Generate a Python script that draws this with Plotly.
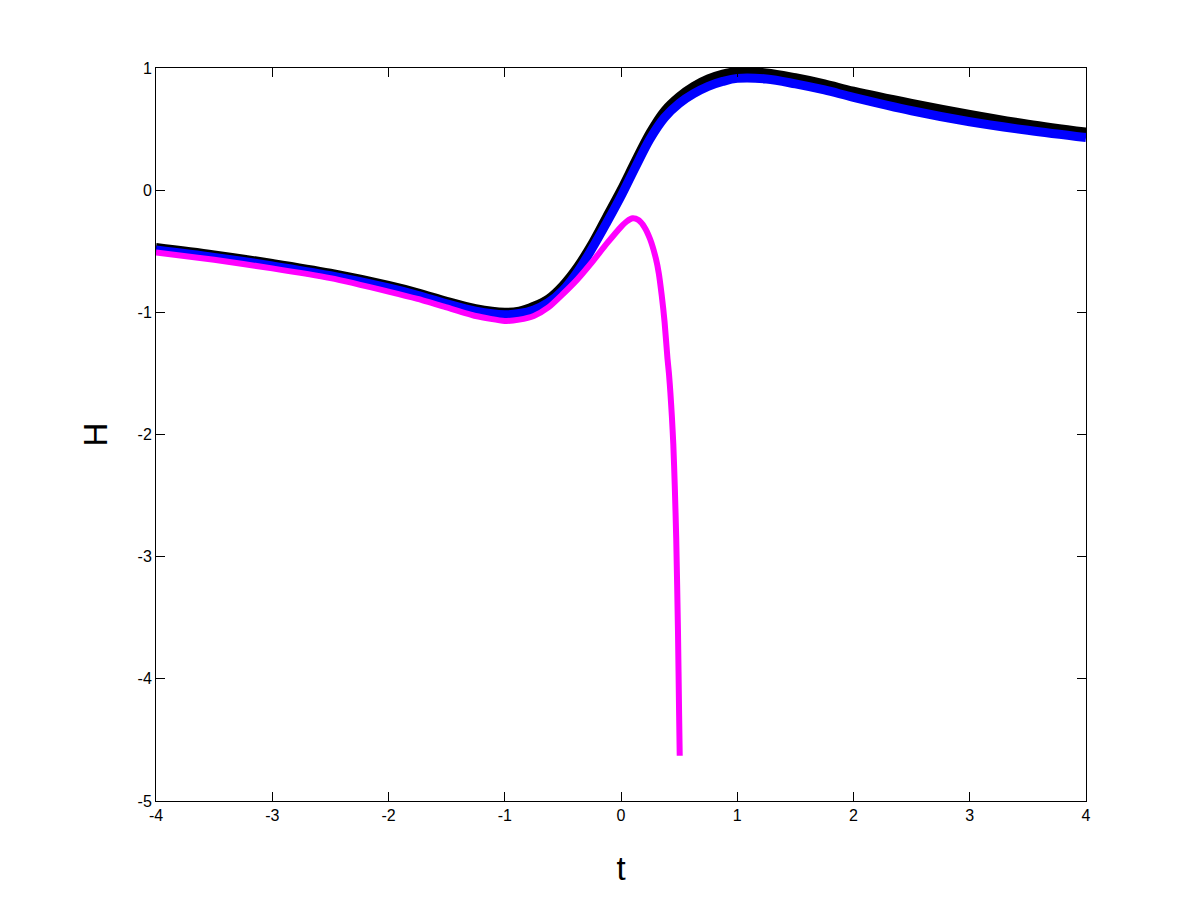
import plotly.graph_objects as go

# values
t_black = [-4, -3.5, -3, -2.5, -2, -1.75, -1.5, -1.25, -1, -0.875, -0.75, -0.625, -0.5, -0.375,
           -0.25, -0.125, 0, 0.125, 0.25, 0.375, 0.5, 0.625, 0.75, 0.875, 1, 1.25, 1.5, 1.75,
           2, 2.5, 3, 3.5, 4]
h_black = [-0.47, -0.53, -0.60, -0.68, -0.78, -0.84, -0.91, -0.97, -1.00, -0.99, -0.95, -0.89, -0.78, -0.63,
           -0.44, -0.22, 0.0, 0.24, 0.47, 0.65, 0.765, 0.85, 0.91, 0.95, 0.97, 0.96, 0.92, 0.87,
           0.81, 0.71, 0.62, 0.54, 0.475]

t_blue = [-4, -3.5, -3, -2.5, -2, -1.75, -1.5, -1.25, -1, -0.875, -0.75, -0.625, -0.5, -0.375,
          -0.25, -0.125, 0, 0.125, 0.25, 0.375, 0.5, 0.625, 0.75, 0.875, 1, 1.25, 1.5, 1.75,
          2, 2.5, 3, 3.5, 4]
h_blue = [-0.49, -0.55, -0.62, -0.70, -0.80, -0.86, -0.93, -0.99, -1.02, -1.01, -0.98, -0.92, -0.82, -0.67,
          -0.48, -0.27, -0.05, 0.19, 0.42, 0.595, 0.71, 0.79, 0.85, 0.89, 0.915, 0.91, 0.87, 0.82,
          0.76, 0.65, 0.56, 0.49, 0.43]

t_magenta = [-4, -3.5, -3, -2.5, -2, -1.75, -1.5, -1.25, -1, -0.875, -0.75, -0.625, -0.5, -0.375,
             -0.25, -0.125, 0, 0.05, 0.1, 0.15, 0.2, 0.25, 0.3, 0.325, 0.35, 0.375, 0.4, 0.4125,
             0.425, 0.4375, 0.45, 0.4625, 0.475, 0.49, 0.5, 0.505]
h_magenta = [-0.51, -0.57, -0.64, -0.72, -0.83, -0.89, -0.96, -1.03, -1.07, -1.06, -1.03, -0.96, -0.85, -0.73,
             -0.59, -0.44, -0.30, -0.255, -0.23, -0.245, -0.30, -0.40, -0.56, -0.68, -0.86, -1.08, -1.38, -1.5,
             -1.66, -1.85, -2.08, -2.42, -2.85, -3.6, -4.3, -4.63]

x_ticks = [-4, -3, -2, -1, 0, 1, 2, 3, 4]
x_labels = ["-4", "-3", "-2", "-1", "0", "1", "2", "3", "4"]
y_ticks = [-5, -4, -3, -2, -1, 0, 1]
y_labels = ["-5", "-4", "-3", "-2", "-1", "0", "1"]

fig = go.Figure()
fig.add_trace(go.Scatter(x=t_black, y=h_black, mode="lines",
                         line=dict(color="#000000", width=9, shape="spline", smoothing=1.0)))
fig.add_trace(go.Scatter(x=t_blue, y=h_blue, mode="lines",
                         line=dict(color="#0000ff", width=9, shape="spline", smoothing=1.0)))
fig.add_trace(go.Scatter(x=t_magenta, y=h_magenta, mode="lines",
                         line=dict(color="#ff00ff", width=6, shape="spline", smoothing=0.6)))

font_family = "Liberation Sans, Arial, sans-serif"
axis_style = dict(showgrid=False, zeroline=False, showline=True, linecolor="black", linewidth=1,
                  ticks="inside", ticklen=9, tickwidth=1, tickcolor="black", mirror="ticks",
                  tickfont=dict(family=font_family, size=16, color="black"))

fig.update_xaxes(range=[-4, 4], tickvals=x_ticks, ticktext=x_labels,
                 title=dict(text="t", font=dict(family=font_family, size=33, color="black"), standoff=33),
                 **axis_style)
fig.update_yaxes(range=[-5, 1], tickvals=y_ticks, ticktext=y_labels,
                 title=dict(text="H", font=dict(family=font_family, size=33, color="black"), standoff=20),
                 **axis_style)

# the page adds an 8px body margin, so the figure is a bit smaller than the window
fig.update_layout(width=1192, height=893, autosize=False, showlegend=False,
                  plot_bgcolor="white", paper_bgcolor="white",
                  margin=dict(l=148, r=114, t=60, b=100))

fig.write_html("out.html")
